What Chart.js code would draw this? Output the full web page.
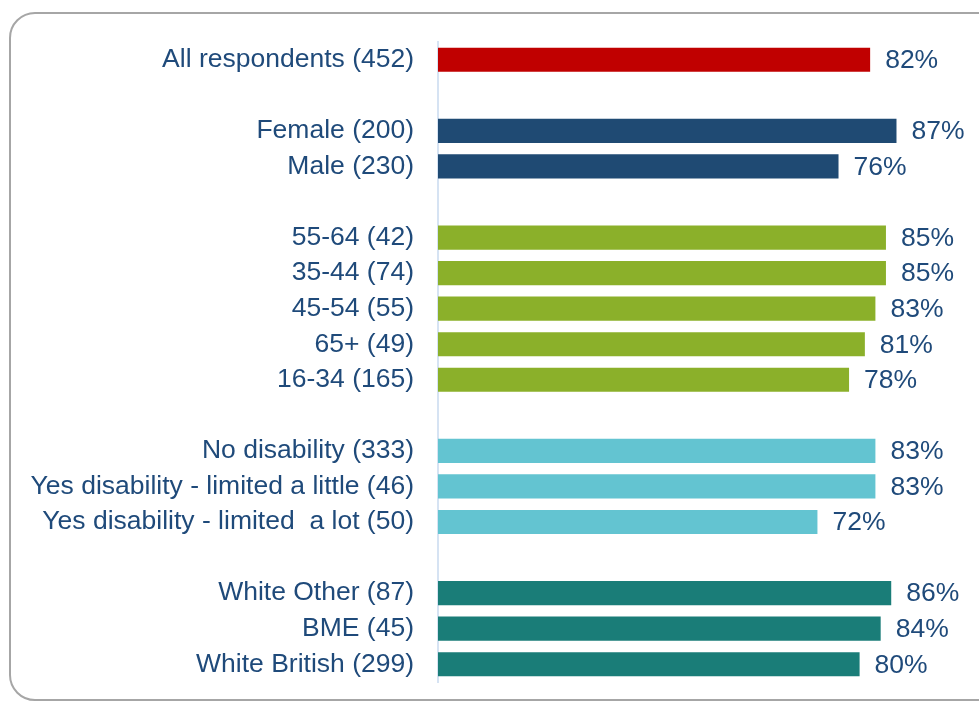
<!DOCTYPE html>
<html>
<head>
<meta charset="utf-8">
<script src="https://cdn.jsdelivr.net/npm/chart.js@4.4.1/dist/chart.umd.min.js"></script>
<style>
  html, body { margin: 0; padding: 0; background: #fff; overflow: hidden; }
  #frame {
    position: absolute; left: 9px; top: 12px; width: 1000px; height: 689px;
    border: 2px solid #a6a6a6; border-radius: 26px; box-sizing: border-box;
  }
  #chart { position: absolute; left: 0; top: 0; }
</style>
</head>
<body>
<div id="frame"></div>
<canvas id="chart" width="979" height="702"></canvas>
<script>
// rows, with blank rows between the groups
const labels = [
  'All respondents (452)', '',
  'Female (200)', 'Male (230)', '',
  '55-64 (42)', '35-44 (74)', '45-54 (55)', '65+ (49)', '16-34 (165)', '',
  'No disability (333)', 'Yes disability - limited a little (46)', 'Yes disability - limited  a lot (50)', '',
  'White Other (87)', 'BME (45)', 'White British (299)'
];
const values = [
  82, null,
  87, 76, null,
  85, 85, 83, 81, 78, null,
  83, 83, 72, null,
  86, 84, 80
];
const groupColours = ['#C00000', '#1F4A73', '#8BB02A', '#63C4D1', '#1A7D78'];
const groupOf = [0, 0, 1, 1, 1, 2, 2, 2, 2, 2, 2, 3, 3, 3, 3, 4, 4, 4];

const textColour = '#1F4A7A';
const font = { family: 'Liberation Sans, Arial, sans-serif', size: 26.5 };

// value labels to the right of each bar
const valueLabels = {
  id: 'valueLabels',
  afterDatasetsDraw(chart) {
    const ctx = chart.ctx;
    const meta = chart.getDatasetMeta(0);
    ctx.save();
    ctx.font = font.size + 'px ' + font.family;
    ctx.fillStyle = textColour;
    ctx.textBaseline = 'middle';
    meta.data.forEach((bar, i) => {
      if (values[i] == null) return;
      ctx.fillText(values[i] + '%', bar.x + 15, bar.y + 1);
    });
    ctx.restore();
  }
};

new Chart(document.getElementById('chart'), {
  type: 'bar',
  data: {
    labels: labels,
    datasets: [{
      data: values,
      backgroundColor: groupOf.map(g => groupColours[g]),
      barPercentage: 0.68,
      categoryPercentage: 1
    }]
  },
  options: {
    indexAxis: 'y',
    responsive: false,
    animation: false,
    events: [],
    layout: { padding: { top: 42, bottom: 20, right: 14, left: 0 } },
    plugins: { legend: { display: false }, tooltip: { enabled: false } },
    scales: {
      x: { min: 0, max: 100, display: false },
      y: {
        afterFit(scale) {
          scale.width = 438;
          // the label padding shouldn't push the plot area in
          scale.paddingTop = 0;
          scale.paddingBottom = 0;
        },
        grid: { display: false, drawTicks: false },
        border: { display: true, color: '#D6E3F3', width: 2 },
        ticks: { color: textColour, font: font, padding: 24, autoSkip: false }
      }
    }
  },
  plugins: [valueLabels]
});
</script>
</body>
</html>
